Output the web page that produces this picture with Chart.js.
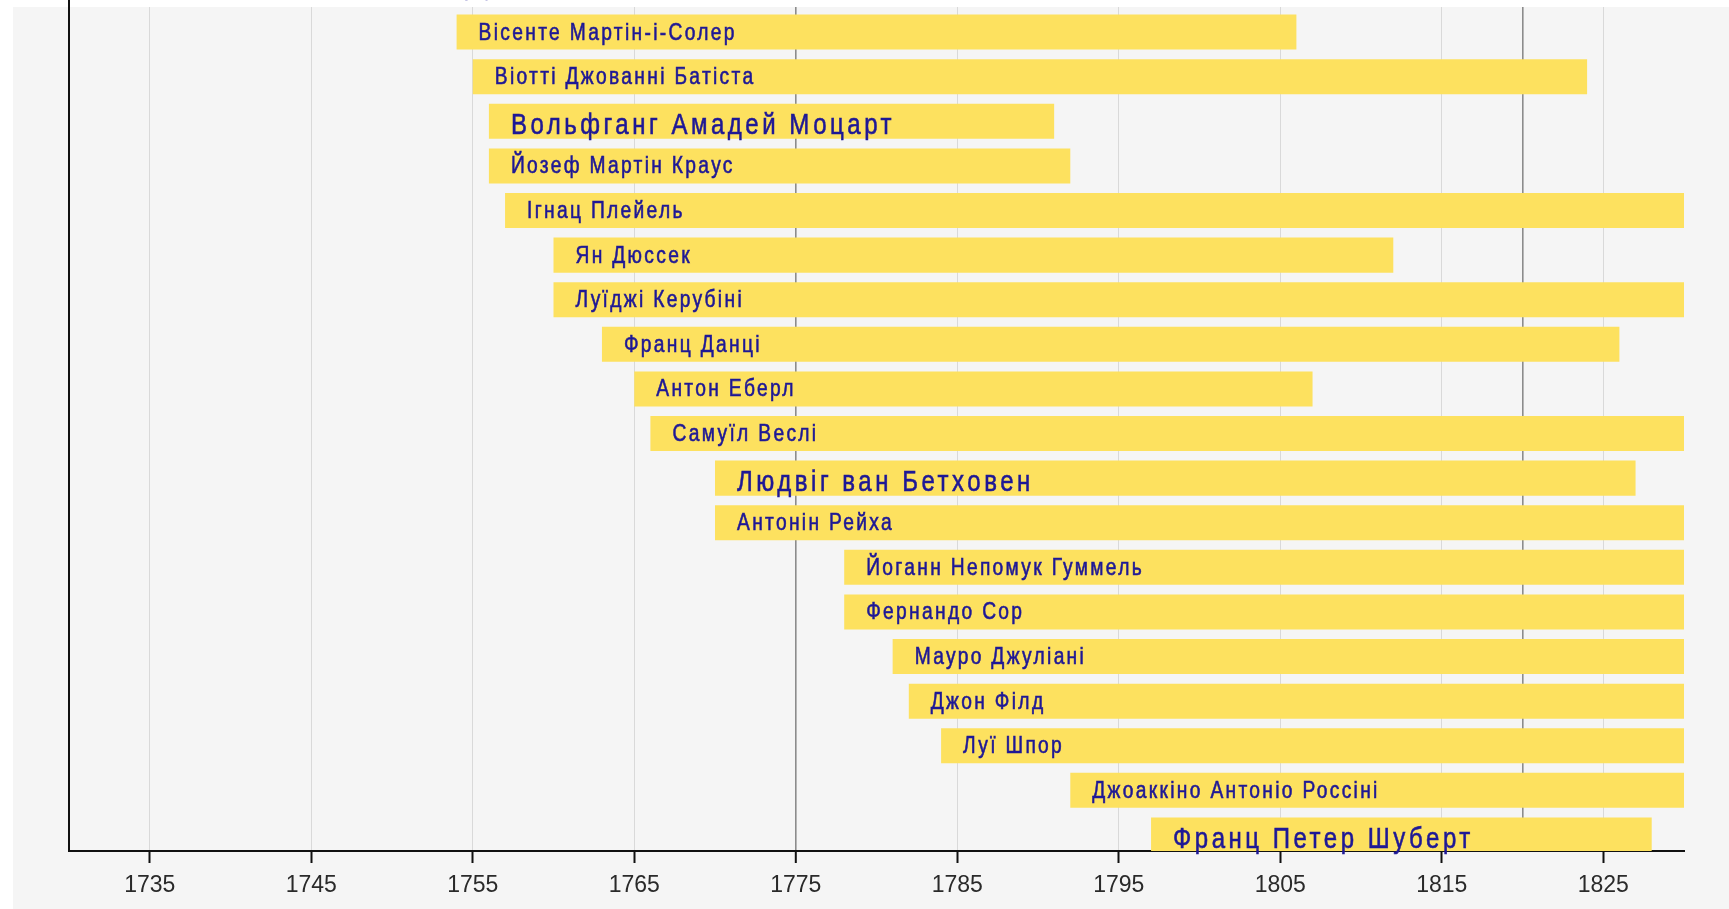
<!DOCTYPE html>
<html>
<head>
<meta charset="utf-8">
<script src="https://cdn.jsdelivr.net/npm/chart.js@4"></script>
<style>
    html, body { margin: 0; padding: 0; background: #ffffff; }
    canvas { display: block; }
</style>
</head>
<body>
<canvas id="timeline" width="1729" height="909"></canvas>
<script>
// composers, top to bottom (the first row is cut off at the top of the picture)
const names = [
    'Муціо Клементі',
    'Вісенте Мартін-і-Солер',
    'Віотті Джованні Батіста',
    'Вольфганг Амадей Моцарт',
    'Йозеф Мартін Краус',
    'Ігнац Плейель',
    'Ян Дюссек',
    'Луїджі Керубіні',
    'Франц Данці',
    'Антон Еберл',
    'Самуїл Веслі',
    'Людвіг ван Бетховен',
    'Антонін Рейха',
    'Йоганн Непомук Гуммель',
    'Фернандо Сор',
    'Мауро Джуліані',
    'Джон Філд',
    'Луї Шпор',
    'Джоаккіно Антоніо Россіні',
    'Франц Петер Шуберт'
];
const born = [1752, 1754, 1755, 1756, 1756, 1757, 1760, 1760, 1763, 1765, 1766, 1770, 1770, 1778, 1778, 1781, 1782, 1784, 1792, 1797];
const died = [1832, 1806, 1824, 1791, 1792, 1831, 1812, 1842, 1826, 1807, 1837, 1827, 1836, 1837, 1839, 1830, 1837, 1859, 1868, 1828];

// names written in the bigger type
const highlighted = ['Вольфганг Амадей Моцарт', 'Людвіг ван Бетховен', 'Франц Петер Шуберт'];

const tickYears = [1735, 1745, 1755, 1765, 1775, 1785, 1795, 1805, 1815, 1825];
const eraYears = [1775, 1820];

const bars = names.map((n, i) => ({ x: [born[i], died[i]], y: i }));

const FONT = '"Liberation Sans", Arial, sans-serif';

const backdrop = {
    id: 'backdrop',
    beforeDraw(chart) {
        const ctx = chart.ctx;
        ctx.save();
        ctx.fillStyle = '#ffffff';
        ctx.fillRect(0, 0, chart.width, chart.height);
        ctx.fillStyle = '#f5f5f5';
        ctx.fillRect(13, 7, chart.width - 13, chart.height - 7);
        ctx.restore();
    },
    afterDatasetsDraw(chart) {
        // the picture is cropped: white strip over the top edge
        const ctx = chart.ctx;
        ctx.save();
        ctx.fillStyle = '#ffffff';
        ctx.fillRect(chart.chartArea.left + 1, 0, chart.width, 7);
        ctx.restore();
    }
};

// names sit inside the bars, narrow letters with wide gaps like the original
const barNames = {
    id: 'barNames',
    afterDatasetsDraw(chart) {
        const ctx = chart.ctx;
        const meta = chart.getDatasetMeta(0);
        meta.data.forEach((bar, i) => {
            const big = highlighted.includes(names[i]);
            ctx.save();
            ctx.fillStyle = '#1e1896';
            ctx.strokeStyle = '#1e1896';
            ctx.lineWidth = 0.6;
            ctx.textAlign = 'left';
            ctx.textBaseline = 'alphabetic';
            ctx.font = (big ? '30px ' : '24px ') + FONT;
            ctx.letterSpacing = big ? '4.4px' : '2.9px';
            ctx.translate(Math.min(bar.base, bar.x) + 22, bar.y + (big ? 13 : 7.5));
            ctx.scale(0.8, 1);
            ctx.fillText(names[i], 0, 0);
            ctx.strokeText(names[i], 0, 0);
            ctx.restore();
        });
    }
};

const ctx = document.getElementById('timeline').getContext('2d');
const chart = new Chart(ctx, {
    type: 'bar',
    data: {
        datasets: [{
            data: bars,
            backgroundColor: '#fde15f',
            borderWidth: 0,
            barPercentage: 0.785,
            categoryPercentage: 1
        }]
    },
    options: {
        indexAxis: 'y',
        responsive: false,
        animation: false,
        layout: { padding: { left: 0, right: 45, top: 0, bottom: 0 } },
        plugins: {
            legend: { display: false },
            tooltip: { enabled: false }
        },
        scales: {
            x: {
                type: 'linear',
                position: 'bottom',
                min: 1730,
                max: 1830,
                afterBuildTicks: (scale) => {
                    scale.ticks = tickYears.concat([1820]).sort((a, b) => a - b).map(v => ({ value: v }));
                },
                afterFit: (scale) => { scale.height = 58; },
                ticks: {
                    autoSkip: false,
                    maxRotation: 0,
                    padding: 9,
                    color: '#2a2a2a',
                    font: { family: FONT, size: 23 },
                    callback: (v) => tickYears.includes(v) ? String(v) : ''
                },
                grid: {
                    color: (c) => eraYears.includes(c.tick && c.tick.value) ? '#8c8c8c' : '#d9d9d9',
                    lineWidth: (c) => eraYears.includes(c.tick && c.tick.value) ? 1.6 : 1,
                    tickColor: (c) => tickYears.includes(c.tick && c.tick.value) ? '#111111' : 'rgba(0,0,0,0)',
                    tickLength: 12,
                    tickWidth: 2
                },
                border: { color: '#111111', width: 2 }
            },
            y: {
                type: 'linear',
                reverse: true,
                offset: false,
                grace: 0,
                min: 0.28,
                max: 19.36,
                afterFit: (scale) => { scale.width = 69; },
                ticks: { display: false },
                grid: { display: false, drawTicks: false },
                border: { color: '#111111', width: 2 }
            }
        }
    },
    plugins: [backdrop, barNames]
});
</script>
</body>
</html>
